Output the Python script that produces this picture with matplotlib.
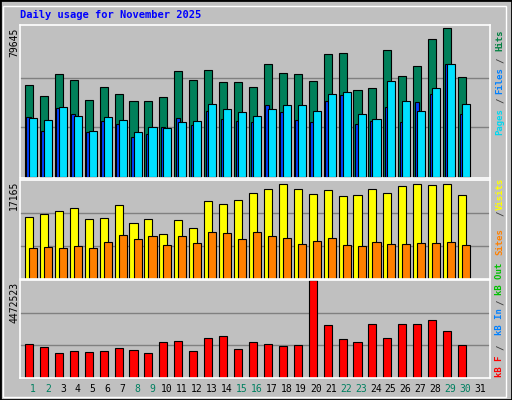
import matplotlib

matplotlib.use("Agg")
import matplotlib.pyplot as plt
from matplotlib.patches import Rectangle

days = list(range(1, 31))
hits = [49050, 43140, 54950, 51730, 40990, 47970, 44210, 40450, 40450, 42600,
        56560, 51730, 57100, 50650, 50650, 47970, 60320, 55490, 54950, 51190,
        65690, 66230, 46360, 47430, 67840, 53880, 59250, 73740, 79645, 53340]
files = [31320, 30250, 37230, 32400, 24340, 31860, 30250, 23810, 26490, 25950,
         29180, 29710, 38840, 36160, 34550, 32400, 36160, 38310, 38310, 35080,
         44210, 45290, 33470, 30790, 51190, 40450, 35080, 47430, 60320, 38840]
pages = [31860, 24340, 36700, 33470, 23810, 29710, 28100, 21120, 22730, 26490,
         31320, 27570, 35080, 30790, 29710, 29180, 38310, 34550, 30250, 29180,
         40450, 43680, 28100, 29710, 37230, 29180, 39920, 44210, 60320, 33470]
visits = [10750, 11270, 11790, 12310, 10400, 10580, 12830, 9710, 10400, 7800,
          10230, 8840, 13520, 13000, 13700, 14910, 15600, 16470, 15600, 14740,
          15430, 14390, 14560, 15600, 14910, 16120, 16470, 16300, 16470, 14560]
sites = [5380, 5550, 5380, 5720, 5380, 6420, 7630, 6940, 7460, 5900,
         7460, 6240, 8150, 7980, 6940, 8150, 7460, 7110, 6070, 6590,
         7110, 5900, 5720, 6420, 6070, 6070, 6240, 6240, 6420, 5900]
kbytes = [1551000, 1416000, 1144000, 1235000, 1190000, 1235000, 1370000, 1280000, 1144000, 1641000,
          1687000, 1235000, 1822000, 1912000, 1325000, 1641000, 1551000, 1461000, 1506000, 4472523,
          2409000, 1777000, 1641000, 2455000, 1822000, 2455000, 2455000, 2635000, 2138000, 1506000]
weekend = [1, 2, 8, 9, 15, 16, 22, 23, 29, 30]
max_hits, max_visits, max_kb = 79645, 17165, 4472523

W, H = 512, 400
BG = "#C0C0C0"
MONO = "DejaVu Sans Mono"

fig = plt.figure(figsize=(W / 100, H / 100), dpi=100, facecolor=BG)
fig.patches.append(Rectangle((0, 0), 1, 1, transform=fig.transFigure, fill=False,
                             edgecolor="black", linewidth=2))
fig.patches.append(Rectangle((3 / W, 3 / H), 1 - 9 / W, 1 - 9 / H, transform=fig.transFigure,
                             fill=False, edgecolor="white", linewidth=1))


def px_axes(top, bottom):
    return fig.add_axes([20 / W, 1 - bottom / H, 470 / W, (bottom - top) / H])


def setup(ax, ymax):
    ax.set_facecolor(BG)
    ax.set_xlim(0.13, 31.6)
    ax.set_ylim(0, ymax)
    for s in ax.spines.values():
        s.set_color("white")
        s.set_linewidth(1.2)
    ax.set_xticks([])
    ax.set_yticks([])
    for f in (1 / 3, 2 / 3):
        ax.axhline(ymax * f, color="#808080", linewidth=1, zorder=0)


x = days
ax1 = px_axes(25, 178)
setup(ax1, max_hits)
ax1.set_ylim(-700, 81470)
ax1.bar([d - 0.27 for d in x], hits, width=0.54, color="#00805A", edgecolor="black", linewidth=0.8)
ax1.bar([d - 0.3 for d in x], pages, width=0.27, color="#0040FF", edgecolor="black", linewidth=0.8)
ax1.bar(x, files, width=0.54, color="#00E0FF", edgecolor="black", linewidth=0.8)

ax2 = px_axes(180, 279)
setup(ax2, max_visits)
ax2.bar([d - 0.27 for d in x], visits, width=0.54, color="#FFFF00", edgecolor="black", linewidth=0.8)
ax2.bar(x, sites, width=0.54, color="#FF8000", edgecolor="black", linewidth=0.8)

ax3 = px_axes(280, 378)
setup(ax3, max_kb)
ax3.bar([d - 0.27 for d in x], kbytes, width=0.54, color="#FF0000", edgecolor="black", linewidth=0.8)

# title and max labels
fig.text(20 / W, 1 - 15 / H, "Daily usage for November 2025", color="#0000FF",
         fontsize=7.5, fontweight="bold", family=MONO, va="center")
for top, lab in ((28, max_hits), (181, max_visits), (282, max_kb)):
    fig.text(14 / W, 1 - top / H, str(lab), rotation=90, fontsize=7, family=MONO,
             ha="center", va="top")

# right side legends
legend = [
    (122, "Pages", "#00D8F0"), (100, "/", "#404040"), (81, "Files", "#0080FF"),
    (60, "/", "#404040"), (40, "Hits", "#008040"),
    (242, "Sites", "#FF8000"), (213, "/", "#404040"), (194, "Visits", "#FFFF00"),
    (366, "kB F", "#FF0000"), (347, "/", "#404040"), (322, "kB In", "#0080FF"),
    (302, "/", "#404040"), (279, "kB Out", "#00C000"),
]
for y, txt, col in legend:
    fig.text(500 / W, 1 - y / H, txt, rotation=90, color=col, fontsize=6.5,
             fontweight="bold", family=MONO, ha="center", va="center")

# day labels
for d in range(1, 32):
    xp = 33 + (d - 1) * 14.9
    fig.text(xp / W, 1 - 389 / H, str(d), fontsize=7, family=MONO, ha="center", va="center",
             color="#008060" if d in weekend else "black")

fig.savefig("out.png", dpi=100, facecolor=BG)
